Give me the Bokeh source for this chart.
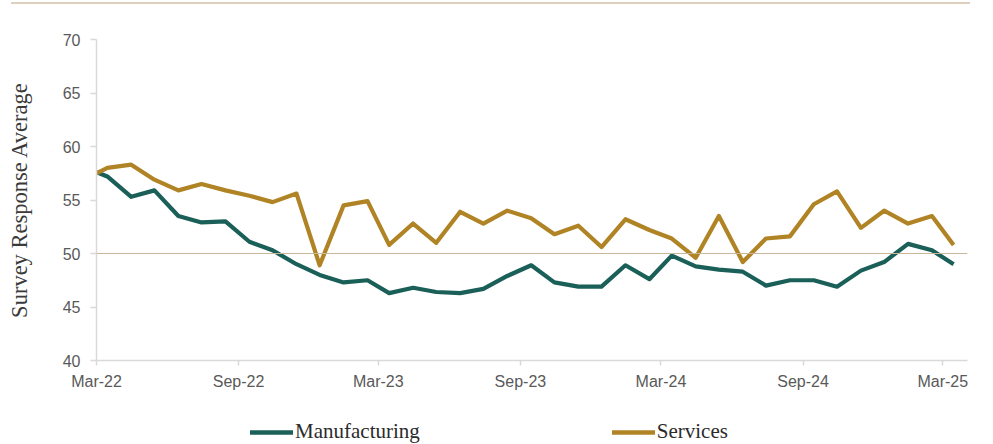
import pandas as pd
from bokeh.plotting import figure
from bokeh.models import (ColumnDataSource, FixedTicker, DatetimeTickFormatter, Span,
                          Legend, LegendItem, Div)
from bokeh.layouts import column
from bokeh.embed import file_html
from bokeh.resources import INLINE

# ---- data ----
# first observation at the start of Mar-22, then mid-month readings Mar-22 .. Mar-25
dates = ["2022-03-01"] + [
    (pd.Timestamp("2022-03-15") + pd.DateOffset(months=i)).strftime("%Y-%m-%d")
    for i in range(37)
]
manufacturing = [57.6, 57.2, 55.3, 55.9, 53.5, 52.9, 53.0, 51.1, 50.3, 49.0, 48.0, 47.3, 47.5,
                 46.3, 46.8, 46.4, 46.3, 46.7, 47.9, 48.9, 47.3, 46.9, 46.9, 48.9, 47.6,
                 49.8, 48.8, 48.5, 48.3, 47.0, 47.5, 47.5, 46.9, 48.4, 49.2, 50.9, 50.3, 49.0]
services = [57.5, 58.0, 58.3, 56.9, 55.9, 56.5, 55.9, 55.4, 54.8, 55.6, 48.9, 54.5, 54.9,
            50.8, 52.8, 51.0, 53.9, 52.8, 54.0, 53.3, 51.8, 52.6, 50.6, 53.2, 52.2,
            51.4, 49.6, 53.5, 49.2, 51.4, 51.6, 54.6, 55.8, 52.4, 54.0, 52.8, 53.5, 50.8]
series_names = ["Manufacturing", "Services"]
tick_dates = ["2022-03-01", "2022-09-01", "2023-03-01", "2023-09-01",
              "2024-03-01", "2024-09-01", "2025-03-01"]
y_ticks = [40, 45, 50, 55, 60, 65, 70]

teal = "#1a5f58"
gold = "#b08325"

x = pd.to_datetime(dates)
src = ColumnDataSource(dict(x=x, m=manufacturing, s=services))

p = figure(width=993, height=396, output_backend="svg", toolbar_location=None,
           x_axis_type="datetime",
           x_range=(pd.Timestamp("2022-03-01"), pd.Timestamp("2025-04-02")),
           y_range=(40, 70), frame_width=871, frame_height=321,
           min_border_left=96, min_border_right=26, min_border_top=35, min_border_bottom=40)
p.background_fill_color = "white"
p.border_fill_color = "white"
p.outline_line_color = None
p.xgrid.visible = False
p.ygrid.visible = False

p.add_layout(Span(location=50, dimension="width", line_color="#c9b79c", line_width=1.2))

p.line("x", "m", source=src, line_color=teal, line_width=4.2, line_join="round")
p.line("x", "s", source=src, line_color=gold, line_width=4.2, line_join="round")

tick_ms = [pd.Timestamp(d).value / 1e6 for d in tick_dates]
p.xaxis.ticker = FixedTicker(ticks=tick_ms)
fmt = "%b-%y"
p.xaxis.formatter = DatetimeTickFormatter(milliseconds=fmt, seconds=fmt, minsec=fmt, minutes=fmt,
                                          hourmin=fmt, hours=fmt, days=fmt, months=fmt, years=fmt)
p.yaxis.ticker = FixedTicker(ticks=y_ticks)

for ax in (p.xaxis[0], p.yaxis[0]):
    ax.axis_line_color = "#d9d9d9"
    ax.axis_line_width = 1.5
    ax.major_tick_line_color = "#d9d9d9"
    ax.major_tick_line_width = 1.5
    ax.minor_tick_line_color = None
    ax.major_tick_in = 0
    ax.major_label_text_font = "Liberation Sans"
    ax.major_label_text_font_size = "16px"
    ax.major_label_text_color = "#595959"

p.xaxis.major_tick_out = 5
p.xaxis.major_label_standoff = 7
p.yaxis.major_tick_out = 6
p.yaxis.major_label_standoff = 10
p.yaxis.axis_label = "Survey Response Average"
p.yaxis.axis_label_text_font = "Liberation Serif"
p.yaxis.axis_label_text_font_style = "normal"
p.yaxis.axis_label_text_font_size = "22.5px"
p.yaxis.axis_label_text_color = "#3a3a3a"
p.yaxis.axis_label_standoff = 28

# ---- legend strip (separate small figure; its lines fall outside its own ranges) ----
lg = figure(width=993, height=44, output_backend="svg", toolbar_location=None,
            x_range=(0, 1), y_range=(0, 1), x_axis_location=None, y_axis_location=None,
            min_border_left=0, min_border_right=0, min_border_top=0, min_border_bottom=0)
lg.outline_line_color = None
lg.xgrid.visible = False
lg.ygrid.visible = False
lg.border_fill_color = "white"
d_m = lg.line("x", "m", source=src, line_color=teal, line_width=4.5, line_cap="round")
d_s = lg.line("x", "s", source=src, line_color=gold, line_width=4.5, line_cap="round")

legend = Legend(items=[LegendItem(label=series_names[0], renderers=[d_m]),
                       LegendItem(label=series_names[1], renderers=[d_s])],
                orientation="horizontal", location=(154, 0),
                glyph_width=43, glyph_height=20, label_height=20, label_standoff=2, spacing=192,
                padding=0, margin=0, border_line_color=None, background_fill_alpha=0,
                label_text_font="Liberation Serif", label_text_font_size="21px",
                label_text_color="#2b2b2b")
lg.add_layout(legend, "center")

top = Div(text="", width=959, height=2, margin=(2, 0, 0, 11),
          styles={"background-color": "#ddd0bf"})

layout = column(top, p, lg, spacing=0)
open("out.html", "w").write(file_html(layout, INLINE))
